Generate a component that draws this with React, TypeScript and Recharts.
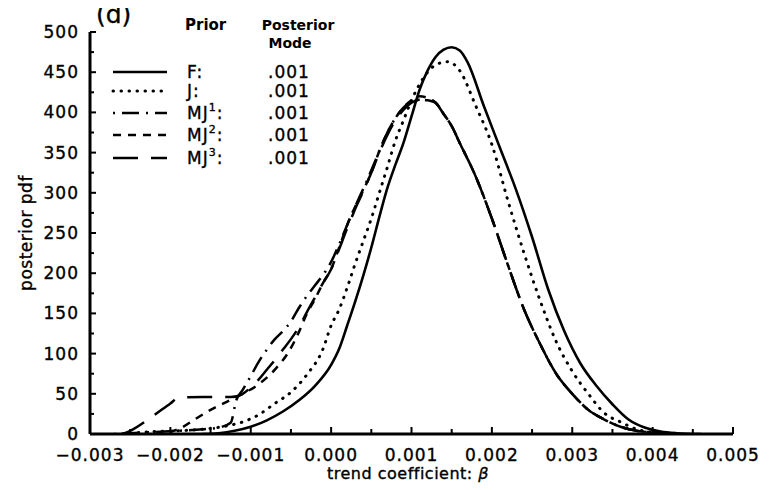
import React from "react";
import { LineChart, Line, XAxis, YAxis } from "recharts";

// ---- data (x = trend coefficient beta, y = posterior pdf) ----
const fX = [-0.0016, -0.0014, -0.0012, -0.001, -0.0008, -0.0006, -0.0004, -0.0002, 0, 0.0001, 0.0002, 0.0003, 0.0004, 0.0005, 0.0006, 0.0007, 0.0008, 0.0009, 0.001, 0.0011, 0.0012, 0.0013, 0.0014, 0.0015, 0.0016, 0.0017, 0.0019, 0.0021, 0.0023, 0.0025, 0.0027, 0.0029, 0.0031, 0.0033, 0.0035, 0.0037, 0.0039, 0.0041, 0.0043, 0.0046];
const fY = [0, 1, 4, 9, 17, 28, 42, 60, 86, 106, 135, 165, 197, 232, 270, 306, 335, 362, 395, 428, 452, 469, 478, 481, 477, 462, 408, 356, 304, 245, 180, 128, 88, 60, 37, 18, 8, 3, 1, 0];

const jX = [-0.0026, -0.0022, -0.0019, -0.0016, -0.0013, -0.0011, -0.0009, -0.0007, -0.0005, -0.0003, -0.0001, 0, 0.0001, 0.0002, 0.0003, 0.0004, 0.0005, 0.0006, 0.0007, 0.0008, 0.0009, 0.001, 0.0011, 0.0012, 0.0013, 0.00145, 0.0016, 0.0018, 0.002, 0.0022, 0.0024, 0.0026, 0.0028, 0.003, 0.0032, 0.0034, 0.0036, 0.0038, 0.004, 0.0043];
const jY = [0, 3, 4, 6, 10, 15, 24, 38, 52, 74, 106, 135, 155, 182, 212, 240, 268, 300, 332, 365, 390, 415, 435, 450, 459, 463, 452, 408, 360, 290, 225, 166, 115, 78, 50, 26, 15, 6, 2, 0];

// shared right-hand side of the three MJ priors
const mjRightX = [0.0013, 0.0014, 0.0015, 0.0016, 0.0018, 0.002, 0.0022, 0.0024, 0.0026, 0.0028, 0.003, 0.0032, 0.0034, 0.0036, 0.0038, 0.004, 0.0043];
const mjRightY = [412, 398, 383, 362, 320, 268, 210, 155, 112, 75, 50, 30, 18, 9, 4, 2, 0];

const mj1X = [-0.0027, -0.0023, -0.0019, -0.0016, -0.0014, -0.00125, -0.00118, -0.0011, -0.001, -0.0009, -0.0008, -0.0007, -0.0006, -0.0005, -0.0004, -0.0003, -0.0002, -0.0001, 0, 0.0001, 0.0002, 0.0003, 0.0004, 0.0005, 0.0006, 0.0007, 0.0008, 0.0009, 0.001, 0.0011, 0.0012];
const mj1Y = [0, 2, 4, 6, 8, 14, 42, 55, 72, 90, 105, 118, 128, 140, 157, 172, 185, 198, 214, 236, 260, 283, 305, 328, 352, 375, 393, 406, 413, 416, 415];

const mj2X = [-0.0022, -0.0019, -0.0017, -0.0015, -0.0013, -0.0011, -0.0009, -0.0007, -0.0005, -0.0004, -0.0003, -0.0002, -0.0001, 0, 0.0001, 0.0002, 0.0003, 0.0004, 0.0005, 0.0006, 0.0007, 0.0008, 0.0009, 0.001, 0.0011, 0.0012];
const mj2Y = [0, 6, 18, 30, 40, 50, 62, 80, 107, 127, 150, 168, 188, 205, 232, 260, 283, 303, 325, 352, 375, 393, 406, 415, 420, 418];

const mj3X = [-0.0026, -0.0025, -0.00225, -0.002, -0.0019, -0.0016, -0.00125, -0.0011, -0.001, -0.0009, -0.0008, -0.0007, -0.0006, -0.0005, -0.0004, -0.0003, -0.0002, -0.0001, 0, 0.0001, 0.0002, 0.0003, 0.0004, 0.0005, 0.0006, 0.0007, 0.0008, 0.0009, 0.001, 0.0011, 0.0012];
const mj3Y = [0, 4, 20, 38, 45, 46, 46, 50, 58, 68, 80, 92, 105, 118, 133, 152, 170, 188, 205, 230, 256, 280, 302, 325, 350, 372, 390, 403, 412, 416, 417];

const xTicks = [-0.003, -0.0025, -0.002, -0.0015, -0.001, -0.0005, 0, 0.0005, 0.001, 0.0015, 0.002, 0.0025, 0.003, 0.0035, 0.004, 0.0045, 0.005];
const xTickLabels = ["\u22120.003", "", "\u22120.002", "", "\u22120.001", "", "0.000", "", "0.001", "", "0.002", "", "0.003", "", "0.004", "", "0.005"];
const yTicks = [0, 25, 50, 75, 100, 125, 150, 175, 200, 225, 250, 275, 300, 325, 350, 375, 400, 425, 450, 475, 500];
const yTickLabels = ["0", "", "50", "", "100", "", "150", "", "200", "", "250", "", "300", "", "350", "", "400", "", "450", "", "500"];

const legendPriors = ["F", "J", "MJ", "MJ", "MJ"];
const legendSup = ["", "", "1", "2", "3"];
const legendModes = [".001", ".001", ".001", ".001", ".001"];

const toPts = (xs: number[], ys: number[]) => xs.map((x, i) => ({ x, y: ys[i] }));

const fData = toPts(fX, fY);
const jData = toPts(jX, jY);
const mj1Data = toPts([...mj1X, ...mjRightX], [...mj1Y, ...mjRightY]);
const mj2Data = toPts([...mj2X, ...mjRightX], [...mj2Y, ...mjRightY]);
const mj3Data = toPts([...mj3X, ...mjRightX], [...mj3Y, ...mjRightY]);

const FONT = "'DejaVu Sans', sans-serif";
const DASH = ["", "0.5 7.5", "2 7 17 7", "8 7", "25 13"];
const LINEW = [2.6, 3, 2.5, 2.5, 2.5];

const textStyle = { fontFamily: FONT, fontSize: 17, fill: "#000", stroke: "#000", strokeWidth: 0.35, letterSpacing: 1 } as const;

const XTick = (props: any) => {
  const { x, y, payload } = props;
  const idx = xTicks.findIndex((t) => Math.abs(t - payload.value) < 1e-9);
  const label = idx >= 0 ? xTickLabels[idx] : "";
  const major = label !== "";
  return (
    <g>
      <line x1={x} x2={x} y1={y} y2={y - (major ? 7 : 5)} stroke="#000" strokeWidth={2} />
      {major && (
        <text x={x} y={y + 21} textAnchor="middle" dominantBaseline="central" style={textStyle}>
          {label}
        </text>
      )}
    </g>
  );
};

const YTick = (props: any) => {
  const { x, y, payload } = props;
  const idx = yTicks.findIndex((t) => t === payload.value);
  const label = idx >= 0 ? yTickLabels[idx] : "";
  const major = label !== "";
  return (
    <g>
      <line x1={x} x2={x + (major ? 6 : 4)} y1={y} y2={y} stroke="#000" strokeWidth={2} />
      {major && (
        <text x={x - 11} y={y} textAnchor="end" dominantBaseline="central" style={textStyle}>
          {label}
        </text>
      )}
    </g>
  );
};

export default function App() {
  const W = 776;
  const H = 490;
  const legendRows = [72, 91, 113, 135, 158];
  return (
    <div style={{ position: "relative", left: -8, top: -8, width: W, height: H }}>
      <LineChart width={W} height={H} margin={{ top: 32, right: 43, left: 28, bottom: 26 }}>
        <XAxis
          type="number"
          dataKey="x"
          domain={[-0.003, 0.005]}
          ticks={xTicks}
          allowDataOverflow
          height={30}
          axisLine={{ stroke: "#000", strokeWidth: 3 }}
          tickLine={false}
          tickSize={0}
          tickMargin={0}
          tick={<XTick />}
          interval={0}
        />
        <YAxis
          type="number"
          dataKey="y"
          domain={[0, 500]}
          ticks={yTicks}
          allowDataOverflow
          width={62}
          axisLine={{ stroke: "#000", strokeWidth: 3 }}
          tickLine={false}
          tickSize={0}
          tickMargin={0}
          tick={<YTick />}
          interval={0}
        />
        <Line data={fData} dataKey="y" type="monotone" stroke="#000" strokeWidth={LINEW[0]} dot={false} isAnimationActive={false} />
        <Line data={jData} dataKey="y" type="monotone" stroke="#000" strokeWidth={LINEW[1]} strokeDasharray={DASH[1]} strokeLinecap="round" dot={false} isAnimationActive={false} />
        <Line data={mj1Data} dataKey="y" type="monotone" stroke="#000" strokeWidth={LINEW[2]} strokeDasharray={DASH[2]} dot={false} isAnimationActive={false} />
        <Line data={mj2Data} dataKey="y" type="monotone" stroke="#000" strokeWidth={LINEW[3]} strokeDasharray={DASH[3]} dot={false} isAnimationActive={false} />
        <Line data={mj3Data} dataKey="y" type="monotone" stroke="#000" strokeWidth={LINEW[4]} strokeDasharray={DASH[4]} dot={false} isAnimationActive={false} />
      </LineChart>
      <svg width={W} height={H} style={{ position: "absolute", left: 0, top: 0, pointerEvents: "none" }}>
        <text x={96} y={23} style={{ ...textStyle, fontSize: 25, letterSpacing: 0 }}>(d)</text>
        <text x={185} y={30} style={{ fontFamily: FONT, fontSize: 15, fontWeight: "bold", fill: "#000" }}>Prior</text>
        <text x={298} y={30} textAnchor="middle" style={{ fontFamily: FONT, fontSize: 14, fontWeight: "bold", fill: "#000" }}>Posterior</text>
        <text x={290} y={48} textAnchor="middle" style={{ fontFamily: FONT, fontSize: 14, fontWeight: "bold", fill: "#000" }}>Mode</text>
        {legendRows.map((yy, i) => (
          <g key={i}>
            <line x1={113} x2={167} y1={yy} y2={yy} stroke="#000" strokeWidth={LINEW[i]} strokeDasharray={DASH[i] || undefined} strokeLinecap={i === 1 ? "round" : "butt"} />
            <text x={187} y={yy} dominantBaseline="central" style={textStyle}>
              {legendPriors[i]}
              {legendSup[i] && (
                <tspan dy={-6} fontSize={11}>{legendSup[i]}</tspan>
              )}
              <tspan dy={legendSup[i] ? 6 : 0}>:</tspan>
            </text>
            <text x={268} y={yy} dominantBaseline="central" style={textStyle}>{legendModes[i]}</text>
          </g>
        ))}
        <text x={408} y={473} textAnchor="middle" dominantBaseline="central" style={{ ...textStyle, fontSize: 16, letterSpacing: 0.5 }}>
          trend coefficient: <tspan fontStyle="italic">β</tspan>
        </text>
        <text x={26} y={233} textAnchor="middle" dominantBaseline="central" transform="rotate(-90 26 233)" style={{ ...textStyle, fontSize: 17, letterSpacing: 0.5 }}>
          posterior pdf
        </text>
      </svg>
    </div>
  );
}
